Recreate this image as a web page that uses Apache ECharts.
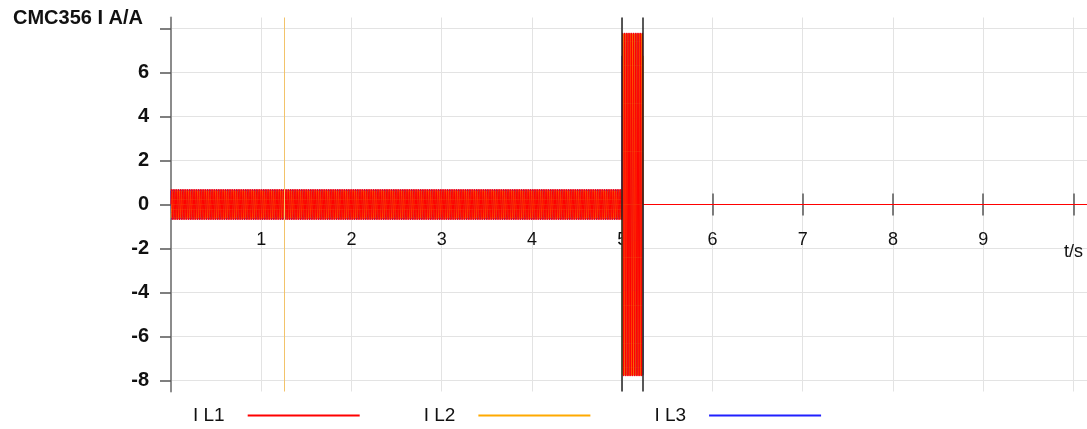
<!DOCTYPE html>
<html>
<head>
<meta charset="utf-8">
<title>CMC356 I A/A</title>
<script src="https://cdn.jsdelivr.net/npm/echarts@6/dist/echarts.min.js"></script>
<style>
  html, body { margin: 0; padding: 0; background: #fff; }
  #chart { width: 1087px; height: 429px; }
</style>
</head>
<body>
<div id="chart"></div>
<script>
// Three-phase current record: steady load, short fault burst, then off.
const phaseNames = ['I L1', 'I L2', 'I L3'];
const phaseColors = ['#ff0000', '#ffaa00', '#2020ff'];
const phaseAnglesDeg = [0, -120, 120];
const frequencyHz = 50;
const segmentStart = [0, 5.0, 5.23];   // s
const segmentEnd = [5.0, 5.23, 10.15]; // s
const segmentPeak = [0.73, 7.8, 0];    // A (peak)
const sampleStep = 0.001;              // s
const cursorTimes = [1.262, 5.0, 5.23];
const cursorColors = ['#f2c36a', '#222222', '#222222'];
const xTicks = [1, 2, 3, 4, 5, 6, 7, 8, 9, 10];
const yTicks = [-8, -6, -4, -2, 0, 2, 4, 6, 8];
const yLabels = [-8, -6, -4, -2, 0, 2, 4, 6];
const xMax = 10.15;
const yMin = -8.5, yMax = 8.5;

function phaseSamples(p) {
  const out = [];
  const ph = phaseAnglesDeg[p] * Math.PI / 180;
  for (let s = 0; s < segmentStart.length; s++) {
    const a = segmentPeak[s];
    if (a === 0) {
      out.push([segmentStart[s], 0], [segmentEnd[s], 0]);
      continue;
    }
    const n = Math.round((segmentEnd[s] - segmentStart[s]) / sampleStep);
    for (let i = 0; i <= n; i++) {
      const t = segmentStart[s] + i * sampleStep;
      out.push([+t.toFixed(4), a * Math.sin(2 * Math.PI * frequencyHz * t + ph)]);
    }
  }
  return out;
}

const font = 'Liberation Sans, Arial, sans-serif';
const H = 429;
const gridBox = { left: 171, right: 0, top: 17.5, bottom: 37.5 };
// The time axis sits on the zero current line, in the middle of the symmetric range.
const plotHeight = H - gridBox.top - gridBox.bottom;
const zeroShift = plotHeight * (yMax - 0) / (yMax - yMin);

const chart = echarts.init(document.getElementById('chart'), null, { renderer: 'canvas' });

const series = phaseNames.map((name, p) => ({
  name,
  type: 'line',
  data: phaseSamples(p),
  showSymbol: false,
  symbol: 'none',
  z: 4 - p,
  lineStyle: { color: phaseColors[p], width: 1 },
  itemStyle: { color: phaseColors[p] },
  animation: false,
  silent: true,
  markLine: p === 0 ? {
    silent: true,
    symbol: 'none',
    label: { show: false },
    animation: false,
    data: cursorTimes.map((t, i) => ({
      xAxis: t,
      lineStyle: { color: cursorColors[i], width: i === 0 ? 1 : 1.5, type: 'solid' }
    }))
  } : undefined
}));

const tickStyle = { color: '#555', width: 1.5 };

chart.setOption({
  animation: false,
  backgroundColor: '#fff',
  title: {
    text: 'CMC356 I A/A',
    left: 8, top: 3,
    textStyle: { fontFamily: font, fontSize: 20, fontWeight: 'bold', color: '#111' }
  },
  legend: {
    data: phaseNames,
    left: 188, top: 401,
    align: 'right',
    icon: 'rect',
    itemWidth: 112, itemHeight: 2,
    itemGap: 64,
    textStyle: { fontFamily: font, fontSize: 19, color: '#111', padding: [0, 18, 0, 0] }
  },
  grid: Object.assign({ containLabel: false, outerBoundsMode: 'none' }, gridBox),
  xAxis: [{
    type: 'value', min: 0, max: xMax, position: 'bottom',
    offset: -(plotHeight - zeroShift),
    axisLine: { show: false, onZero: false },
    axisTick: { show: true, length: 11, customValues: xTicks, lineStyle: tickStyle },
    axisLabel: {
      customValues: xTicks, margin: 27,
      fontFamily: font, fontSize: 18, color: '#111',
      formatter: v => v === 10 ? '{u|t/s}' : String(v),
      rich: { u: { fontFamily: font, fontSize: 18, color: '#111', padding: [12, 0, 0, 0] } }
    },
    splitLine: { show: true, customValues: xTicks, lineStyle: { color: '#e3e3e3', width: 1 } }
  }, {
    type: 'value', min: 0, max: xMax, position: 'top',
    offset: -zeroShift,
    axisLine: { show: false, onZero: false },
    axisTick: { show: true, length: 11, customValues: xTicks, lineStyle: tickStyle },
    axisLabel: { show: false },
    splitLine: { show: false }
  }],
  yAxis: {
    type: 'value', min: yMin, max: yMax,
    axisLine: { show: true, onZero: false, lineStyle: { color: '#8c8c8c', width: 2 } },
    axisTick: { show: true, length: 11, customValues: yTicks, lineStyle: tickStyle },
    axisLabel: {
      customValues: yLabels, margin: 22,
      fontFamily: font, fontSize: 20, fontWeight: 'bold', color: '#111'
    },
    splitLine: { show: true, customValues: yTicks, lineStyle: { color: '#e3e3e3', width: 1 } }
  },
  series
});
</script>
</body>
</html>
